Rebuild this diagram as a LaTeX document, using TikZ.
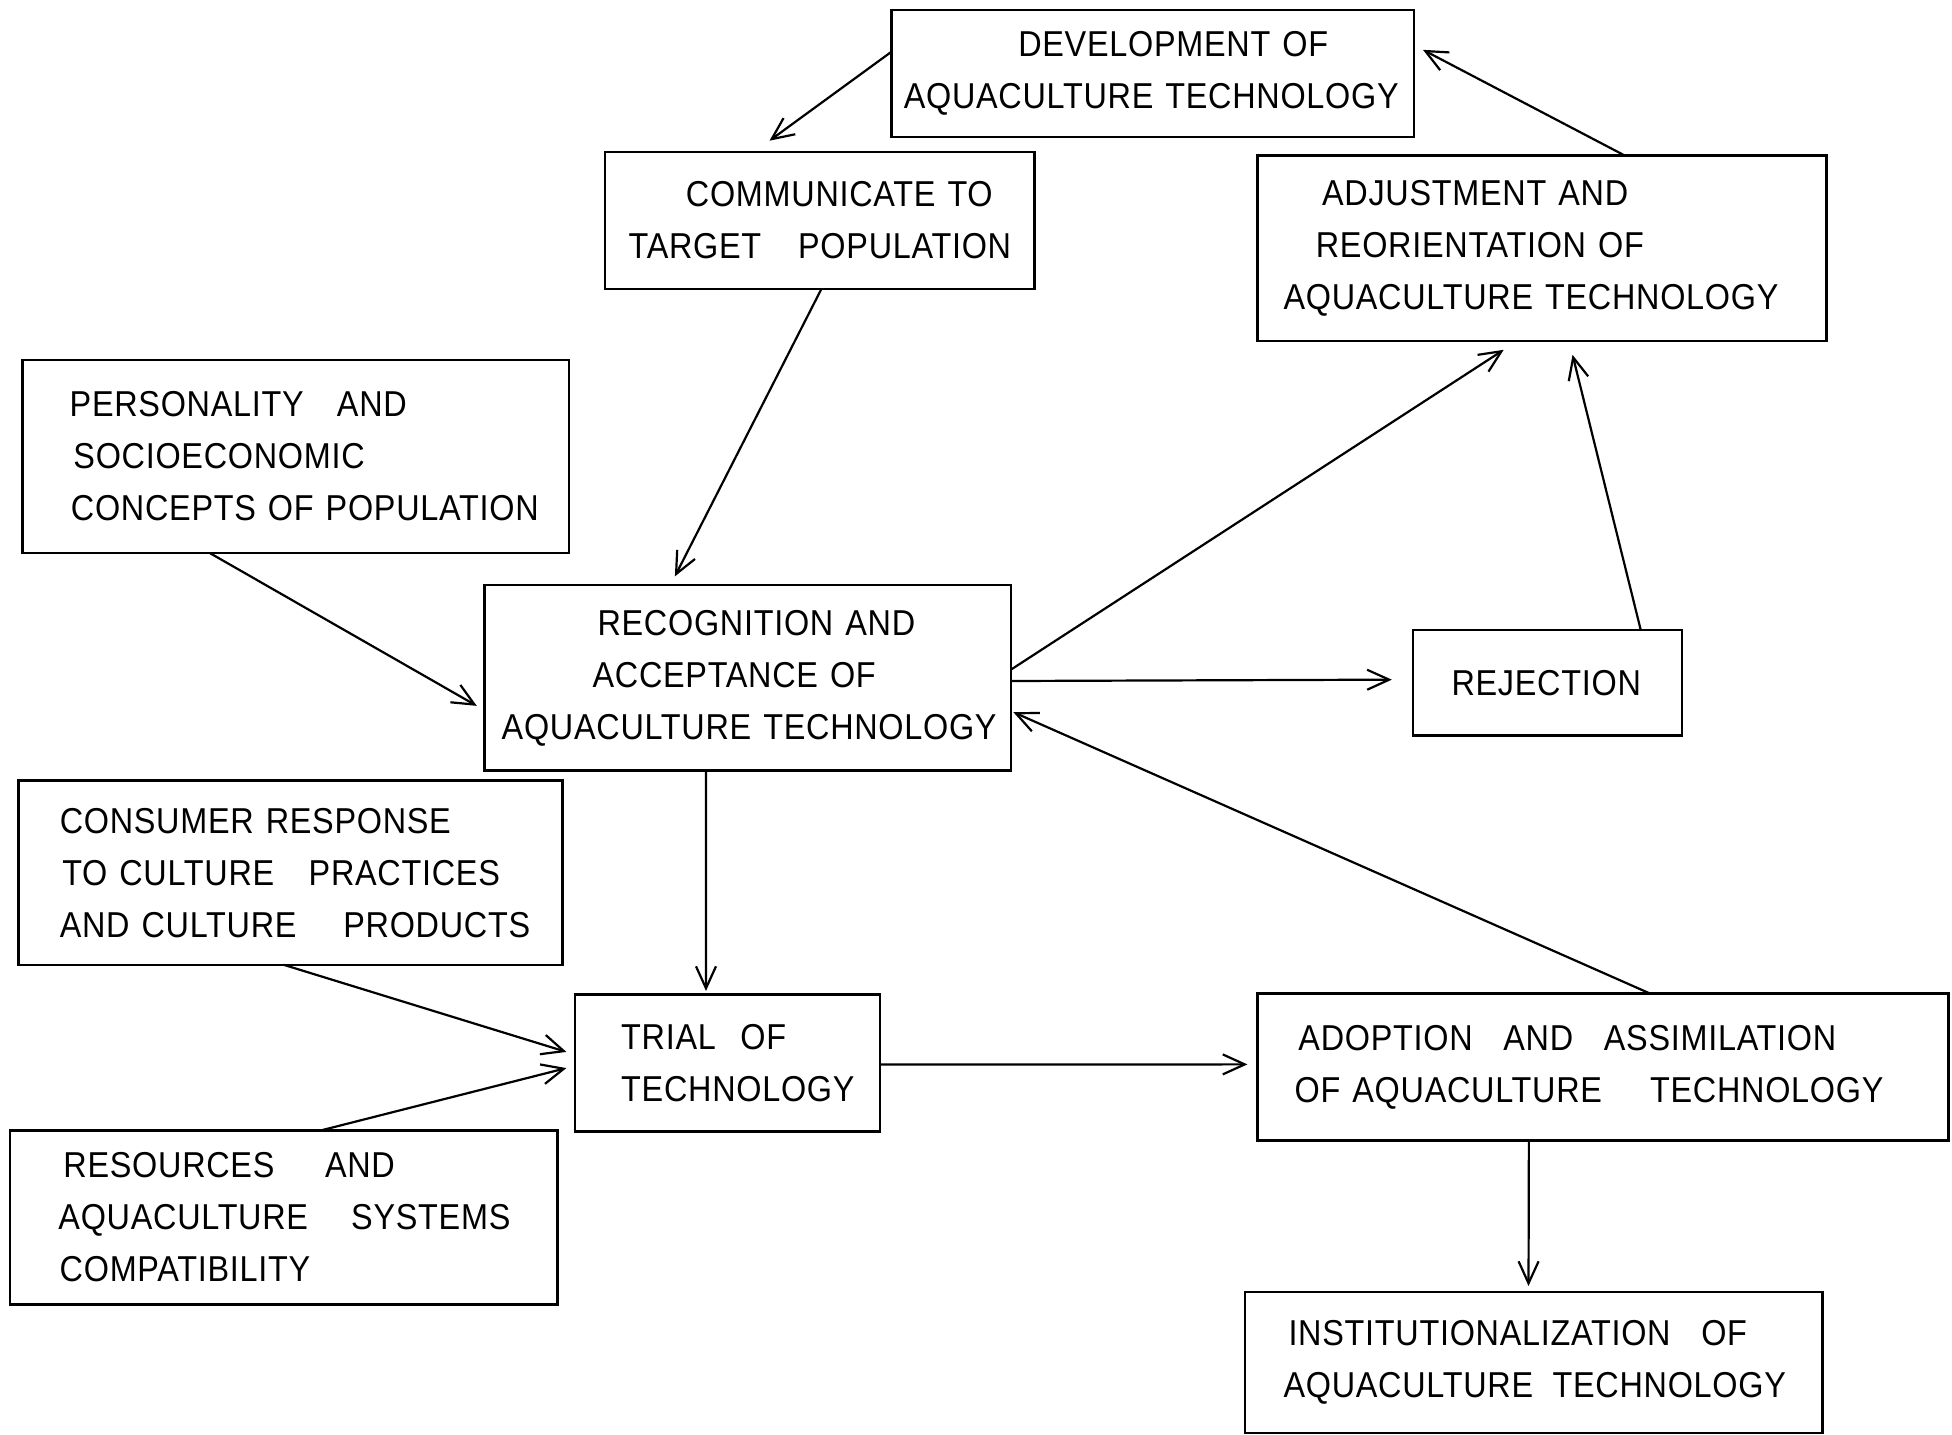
\documentclass[tikz,border=0pt]{standalone}
\usepackage{fontspec}
\setmainfont{Liberation Sans}[FakeStretch=0.9,WordSpace=2.2,LetterSpace=2]
\usetikzlibrary{arrows.meta,calc}
\newcommand\tline[2]{\hspace*{1.2449\dimexpr#1pt\relax}\mbox{#2}}
\newcommand\gap[1]{\hspace{1.2449\dimexpr#1pt\relax}}
\tikzset{
  box/.style={draw, line width=2.5pt, inner sep=0pt, outer sep=0pt, align=left,
    font=\fontsize{36}{52}\selectfont},
  arr/.style={line width=2.2pt, -{Straight Barb[length=22pt,width=20pt]}}
}
\begin{document}
\begin{tikzpicture}[x=1.2449pt,y=-1.2449pt]
\useasboundingbox (0,0) rectangle (1568,1152);
\node[box, minimum width=522.9pt, text width=522.9pt, minimum height=127.0pt] (dev) at (926,59)
  {\tline{102}{DEVELOPMENT OF}\\\tline{10}{AQUACULTURE TECHNOLOGY}};
\node[box, minimum width=429.5pt, text width=429.5pt, minimum height=136.9pt] (comm) at (658.5,177)
  {\tline{65}{COMMUNICATE TO}\\\tline{19}{TARGET\gap{20} POPULATION}};
\node[box, minimum width=568.9pt, text width=568.9pt, minimum height=185.5pt] (adj) at (1238.5,199.5)
  {\tline{52}{ADJUSTMENT AND}\\\tline{47}{REORIENTATION OF}\\\tline{21}{AQUACULTURE TECHNOLOGY}};
\node[box, minimum width=546.5pt, text width=546.5pt, minimum height=193.0pt] (pers) at (237.5,366.5)
  {\tline{38}{PERSONALITY\gap{17} AND}\\\tline{41}{SOCIOECONOMIC}\\\tline{39}{CONCEPTS OF POPULATION}};
\node[box, minimum width=526.6pt, text width=526.6pt, minimum height=185.5pt] (recog) at (600.5,544.5)
  {\tline{91}{RECOGNITION AND}\\\tline{87}{ACCEPTANCE OF}\\\tline{14}{AQUACULTURE TECHNOLOGY}};
\node[box, minimum width=268.9pt, text width=268.9pt, minimum height=105.8pt] (rej) at (1243,548.5)
  {\tline{31}{REJECTION}};
\node[box, minimum width=544.0pt, text width=544.0pt, minimum height=184.2pt] (cons) at (233.5,701)
  {\tline{33}{CONSUMER RESPONSE}\\\tline{35}{TO CULTURE\gap{18} PRACTICES}\\\tline{33}{AND CULTURE\gap{28} PRODUCTS}};
\node[box, minimum width=305.0pt, text width=305.0pt, minimum height=136.9pt] (trial) at (584.5,854)
  {\tline{37}{TRIAL\gap{10} OF}\\\tline{37}{TECHNOLOGY}};
\node[box, minimum width=547.8pt, text width=547.8pt, minimum height=174.3pt] (res) at (228,978)
  {\tline{43}{RESOURCES\gap{31} AND}\\\tline{39}{AQUACULTURE\gap{25} SYSTEMS}\\\tline{40}{COMPATIBILITY}};
\node[box, minimum width=690.9pt, text width=690.9pt, minimum height=146.9pt] (adopt) at (1287.5,857)
  {\tline{33}{ADOPTION\gap{15} AND\gap{15} ASSIMILATION}\\\tline{30}{OF AQUACULTURE\gap{29} TECHNOLOGY}};
\node[box, minimum width=577.6pt, text width=577.6pt, minimum height=140.7pt] (inst) at (1232,1094.5)
  {\tline{35}{INSTITUTIONALIZATION\gap{15} OF}\\\tline{31}{AQUACULTURE\gap{6} TECHNOLOGY}};

\draw[arr] ($(dev.north west)!0.33!(dev.south west)$) -- ($(comm.north west)!0.383!(comm.north east)+(0,-9)$);
\draw[arr] ($(comm.south west)!0.504!(comm.south east)$) -- ($(recog.north west)!0.362!(recog.north east)+(0,-7)$);
\draw[arr] ($(pers.south west)!0.342!(pers.south east)$) -- ($(recog.north west)!0.651!(recog.south west)+(-6,0)$);
\draw[arr] ($(recog.north east)!0.456!(recog.south east)$) -- ($(adj.south west)!0.433!(adj.south east)+(0,7)$);
\draw[arr] ($(rej.north west)!0.847!(rej.north east)$) -- ($(adj.south west)!0.554!(adj.south east)+(0,11)$);
\draw[arr] ($(adj.north west)!0.646!(adj.north east)$) -- ($(dev.north east)!0.314!(dev.south east)+(7,0)$);
\draw[arr] ($(recog.north east)!0.517!(recog.south east)$) -- ($(rej.north west)!0.47!(rej.south west)+(-17,0)$);
\draw[arr] ($(adopt.north west)!0.568!(adopt.north east)$) -- ($(recog.north east)!0.685!(recog.south east)+(2,0)$);
\draw[arr] ($(recog.south west)!0.421!(recog.south east)$) -- ($(trial.north west)!0.429!(trial.north east)+(0,-3)$);
\draw[arr] ($(cons.south west)!0.487!(cons.south east)$) -- ($(trial.north west)!0.418!(trial.south west)+(-7,0)$);
\draw[arr] ($(res.north west)!0.568!(res.north east)$) -- ($(trial.north west)!0.536!(trial.south west)+(-7,0)$);
\draw[arr] ($(trial.north east)!0.51!(trial.south east)$) -- ($(adopt.north west)!0.483!(adopt.south west)+(-8,0)$);
\draw[arr] ($(adopt.south west)!0.393!(adopt.south east)$) -- ($(inst.north west)!0.491!(inst.north east)+(0,-5)$);
\end{tikzpicture}
\end{document}
